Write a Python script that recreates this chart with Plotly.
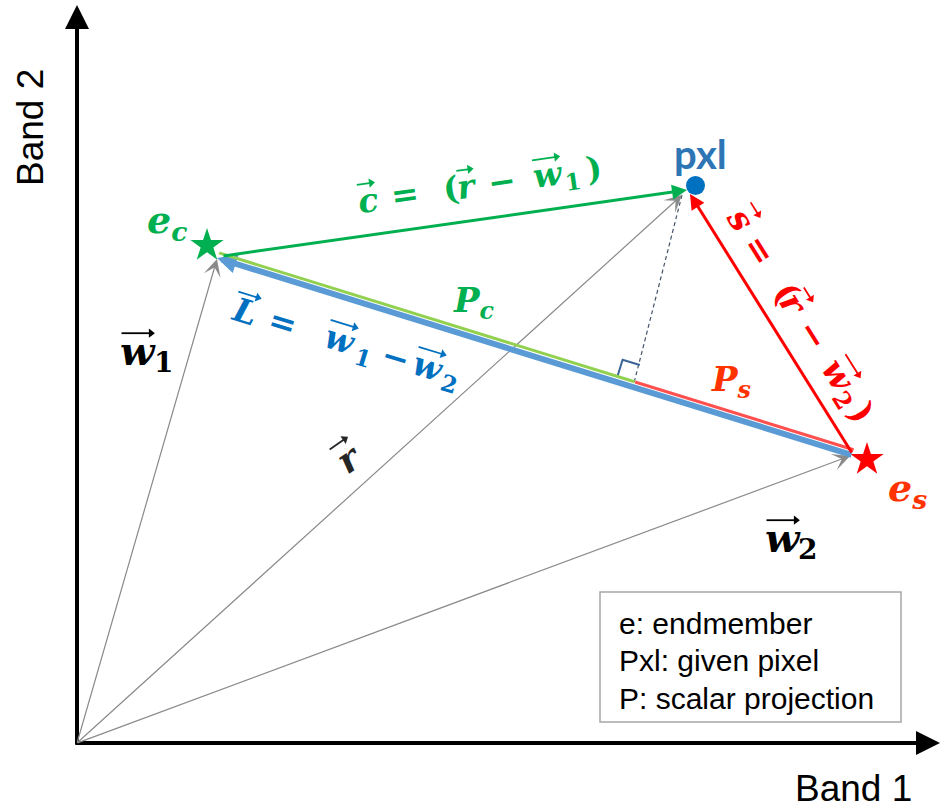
import numpy as np
import plotly.graph_objects as go

# ---- vectors in Band 1 / Band 2 space ----
origin = [0.0, 0.0]
w1 = [1.40, 4.84]        # endmember e_c
w2 = [7.73, 2.87]        # endmember e_s
r = [6.05, 5.48]         # given pixel

ec_star = [1.30, 4.975]
es_star = [7.90, 2.835]
pxl_dot = [6.185, 5.575]

c_tail, c_head = [1.46, 4.87], [6.10, 5.53]
s_tail, s_head = [7.75, 2.90], [6.13, 5.49]
L_tail, L_head = [7.75, 2.88], [1.40, 4.85]

axis_titles = ["Band 1", "Band 2"]
legend_lines = ["e: endmember", "Pxl: given pixel", "P: scalar projection"]

# ---- colours / fonts ----
GREEN = "#00b050"
LIGHT_GREEN = "#92d050"
RED = "#ff0000"
ORANGE_RED = "#ff3300"
PINK_RED = "#ff5050"
BLUE_LINE = "#5b9bd5"
BLUE_TEXT = "#0070c0"
GRAY = "#8a8a8a"
MATH = "DejaVu Serif"
SANS = "Liberation Sans, Arial, sans-serif"
PX = 100.0   # pixels per data unit on both axes (plot fills the 942 x 811 page)

# ---- projection of the pixel onto the endmember line ----
A = np.array(L_tail)
B = np.array(L_head)
u = (B - A) / np.linalg.norm(B - A)          # unit vector toward e_c
n = np.array([u[1], -u[0]])                  # normal pointing toward the pixel
foot = A + np.dot(np.array(pxl_dot) - A, u) * u
off = 0.055 * n                              # P lines sit on top of L

fig = go.Figure()

# dashed perpendicular from pixel to L
fig.add_trace(go.Scatter(x=[r[0], foot[0]], y=[r[1], foot[1]], mode="lines",
                         line=dict(color="#44546a", width=1.2, dash="4px,3px"),
                         hoverinfo="skip"))
# right-angle mark
ra = [foot + 0.18 * u + 0.05 * n, foot + 0.18 * u + 0.23 * n, foot + 0.23 * n]
fig.add_trace(go.Scatter(x=[p[0] for p in ra], y=[p[1] for p in ra], mode="lines",
                         line=dict(color="#3b6496", width=2), hoverinfo="skip"))
# endmembers and pixel
fig.add_trace(go.Scatter(x=[ec_star[0]], y=[ec_star[1]], mode="markers",
                         marker=dict(symbol="star", size=25, color=GREEN), hoverinfo="skip"))
fig.add_trace(go.Scatter(x=[es_star[0]], y=[es_star[1]], mode="markers",
                         marker=dict(symbol="star", size=25, color=RED), hoverinfo="skip"))
fig.add_trace(go.Scatter(x=[pxl_dot[0]], y=[pxl_dot[1]], mode="markers",
                         marker=dict(symbol="circle", size=19, color=BLUE_TEXT), hoverinfo="skip"))


def arrow(tail, head, color, width, style, size):
    fig.add_annotation(x=head[0], y=head[1], ax=tail[0], ay=tail[1],
                       xref="x", yref="y", axref="x", ayref="y", text="",
                       showarrow=True, arrowhead=style, arrowsize=size,
                       arrowwidth=width, arrowcolor=color,
                       font=dict(size=1), borderpad=0)


def label(x, y, text, color, size, angle=0, family=MATH):
    fig.add_annotation(x=x, y=y, xref="x", yref="y", text=text, showarrow=False,
                       textangle=angle, xanchor="center", yanchor="middle",
                       font=dict(family=family, size=size, color=color))


def over_arrow(anchor, center, d, angle, length, color):
    """Small vector arrow; center/d are screen-pixel offsets from anchor."""
    def to_data(q):
        return anchor[0] + q[0] / PX, anchor[1] - q[1] / PX
    head = 8
    tail = center - d * length / 2
    mid = center + d * (length / 2 - head * 0.45)
    tx, ty = to_data(tail)
    mx, my = to_data(mid)
    fig.add_trace(go.Scatter(x=[tx, mx], y=[ty, my], mode="lines",
                             line=dict(color=color, width=1.8), hoverinfo="skip"))
    fig.add_trace(go.Scatter(x=[mx], y=[my], mode="markers", hoverinfo="skip",
                             marker=dict(symbol="triangle-right", size=head,
                                         angle=angle, color=color,
                                         line=dict(width=0))))


def math_label(anchor, angle, size, color, tokens, rise=0.5):
    """Lay out a formula token by token along a (possibly rotated) baseline.

    Each token is (text, offset along the baseline in px, kind) where kind is
    None, "sub", or a number = length of the vector arrow drawn over it."""
    th = np.radians(angle)
    d = np.array([np.cos(th), np.sin(th)])      # reading direction (screen, y down)
    up = np.array([np.sin(th), -np.cos(th)])    # glyph "up" direction
    for txt, along, kind in tokens:
        fs = size
        p = along * d
        if kind == "sub":
            fs = 0.7 * size
            p = p - 0.3 * size * up
        style = "<b><i>%s</i></b>" if txt.isalpha() else "<b>%s</b>"
        fig.add_annotation(x=anchor[0], y=anchor[1], xref="x", yref="y",
                           text=style % txt, showarrow=False, textangle=angle,
                           xanchor="center", yanchor="middle",
                           xshift=p[0], yshift=-p[1],
                           font=dict(family=MATH, size=fs, color=color))
        if isinstance(kind, (int, float)):
            over_arrow(anchor, p + rise * size * up, d, angle, kind, color)


# axes
arrow([0, -0.02], [0, 7.38], "black", 4, 2, 1.2)
arrow([-0.02, 0], [8.63, 0], "black", 4, 2, 1.2)

# position vectors
for tip in (w1, r, w2):
    arrow(origin, tip, GRAY, 1.2, 3, 2.4)

# L = w1 - w2 and the scalar projections on it
arrow(L_tail, L_head, BLUE_LINE, 6, 2, 0.65)
arrow(B + off, foot + off, LIGHT_GREEN, 3, 0, 1)
arrow(foot + off, A + off, PINK_RED, 3, 0, 1)

# c and s vectors
arrow(c_tail, c_head, GREEN, 3, 2, 1.0)
arrow(s_tail, s_head, RED, 3, 2, 1.0)

# vector formulas
math_label([2.91, 5.43], -8, 33, GREEN,
           [("c", 0, 18), ("=", 37, None), ("(", 84, None), ("r", 100, 17),
            ("−", 135, None), ("w", 182, 28), ("1", 206, "sub"), (")", 228, None)])
math_label([1.68, 4.32], 17, 33, BLUE_TEXT,
           [("L", 0, 24), ("=", 40, None), ("w", 99, 29), ("1", 126, "sub"),
            ("−", 158, None), ("w", 191, 29), ("2", 216, "sub")])
math_label([6.64, 5.24], 58, 34, RED,
           [("s", 0, 18), ("=", 36, None), ("(", 86, None), ("r", 100, 17),
            ("−", 137, None), ("w", 184, 28), ("2", 208, "sub"), (")", 228, None)])
math_label([2.72, 2.85], -35, 36, "#262626", [("r", 0, 22)])
math_label([0.61, 3.93], 0, 40, "black", [("w", 0, 33), ("1", 25, "sub")], rise=0.42)
math_label([7.06, 2.06], 0, 40, "black", [("w", 0, 33), ("2", 24, "sub")], rise=0.42)

# point names and projections
label(3.97, 4.41, "<b><i>P<sub>c</sub></i></b>", GREEN, 34)
label(6.54, 3.62, "<b><i>P<sub>s</sub></i></b>", ORANGE_RED, 34)
label(0.90, 5.21, "<b><i>e<sub>c</sub></i></b>", GREEN, 38)
label(8.30, 2.53, "<b><i>e<sub>s</sub></i></b>", ORANGE_RED, 38)
label(6.23, 5.89, "<b>pxl</b>", "#2e75b6", 40, family="Lato")

# axis titles
label(7.76, -0.45, axis_titles[0], "black", 37, family=SANS)
label(-0.47, 6.15, axis_titles[1], "black", 37, -90, family=SANS)

# key box
fig.add_shape(type="rect", x0=5.23, x1=8.24, y0=0.21, y1=1.51,
              line=dict(color="#a6a6a6", width=1.5), fillcolor="white", layer="below")
for i, txt in enumerate(legend_lines):
    fig.add_annotation(x=5.40, y=1.20 - 0.375 * i, xref="x", yref="y", text=txt,
                       showarrow=False, xanchor="left", yanchor="middle",
                       font=dict(family=SANS, size=30, color="black"))

fig.update_layout(
    width=942, height=811, margin=dict(l=0, r=0, t=0, b=0, pad=0),
    paper_bgcolor="white", plot_bgcolor="white", showlegend=False,
    xaxis=dict(range=[-0.77, 8.65], visible=False, fixedrange=True),
    yaxis=dict(range=[-0.68, 7.43], visible=False, fixedrange=True),
)

fig.write_html("out.html")
